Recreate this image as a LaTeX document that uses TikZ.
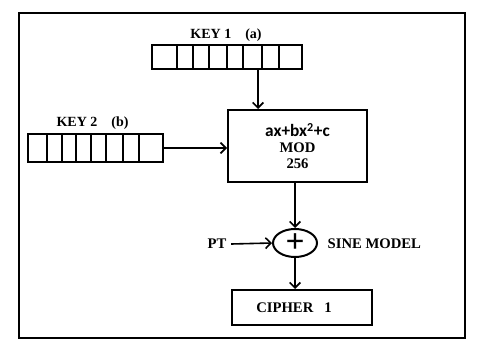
\documentclass[tikz,border=0pt]{standalone}
\usepackage{fontspec}
\setmainfont{Liberation Serif}
\newfontfamily\eqfont{Carlito}
\usetikzlibrary{arrows.meta,shapes.geometric}

\begin{document}
\begin{tikzpicture}[x=0.75pt, y=-0.75pt,
    reg/.style={rectangle, draw, line width=1.5pt, inner sep=0pt},
    box/.style={rectangle, draw, line width=1.5pt, align=center,
                inner sep=0pt, font=\bfseries\fontsize{11}{12}\selectfont},
    lbl/.style={font=\bfseries\fontsize{10.5}{12}\selectfont},
    >={Straight Barb[length=4pt,width=8pt]}
]
\useasboundingbox (0,0) rectangle (482,357);

% Rahmen
\draw[line width=1.6pt] (19,13) rectangle (465,338);

% Register
\node[reg, minimum width=112.5pt, minimum height=18pt] (key1) at (227,57) {};
\node[reg, minimum width=101.25pt, minimum height=21pt] (key2) at (95.5,148) {};
\foreach \x in {177,193,209,227,243,262,279}
    \draw[line width=1.2pt] (\x,45) -- (\x,69);
\foreach \x in {47,62,76,91,106,123,139}
    \draw[line width=1.2pt] (\x,134) -- (\x,162);

\node[lbl] (key1lbl) at (226,35) {KEY 1\quad(a)};
\node[lbl] (key2lbl) at (92.5,123) {KEY 2\quad(b)};

% Bloecke
\node[box, minimum width=104.25pt, minimum height=54pt] (coef) at (297.5,146)
    {{\eqfont\fontsize{13}{12}\selectfont ax+bx\textsuperscript{2}+c}\\MOD\\256};
\node[draw, ellipse, line width=1.5pt, minimum width=33pt, minimum height=21pt,
      inner sep=0pt, font=\bfseries\fontsize{25}{20}\selectfont] (xor) at (295,243) {+};
\node[box, minimum width=105pt, minimum height=26.25pt] (cipher) at (302,307.5)
    {CIPHER\ \ \ 1\hspace*{12pt}};

\node[lbl, font=\bfseries\fontsize{11}{12}\selectfont] (pt) at (217,244) {PT};
\node[lbl, font=\bfseries\fontsize{11}{12}\selectfont, anchor=west] (sine) at (323,244) {SINE MODEL};

% Pfeile
\coordinate (k1out) at (258,69);
\draw[->, line width=1.2pt] (k1out) -- (k1out |- coef.north);
\draw[->, line width=1.2pt] (key2.east) -- (key2.east -| coef.west);
\draw[->, line width=1.2pt] (xor.north |- coef.south) -- (xor.north);
\draw[->, line width=1.2pt] (pt.east) -- (xor.west);
\draw[->, line width=1.2pt] (xor.south) -- (xor.south |- cipher.north);

\end{tikzpicture}
\end{document}
